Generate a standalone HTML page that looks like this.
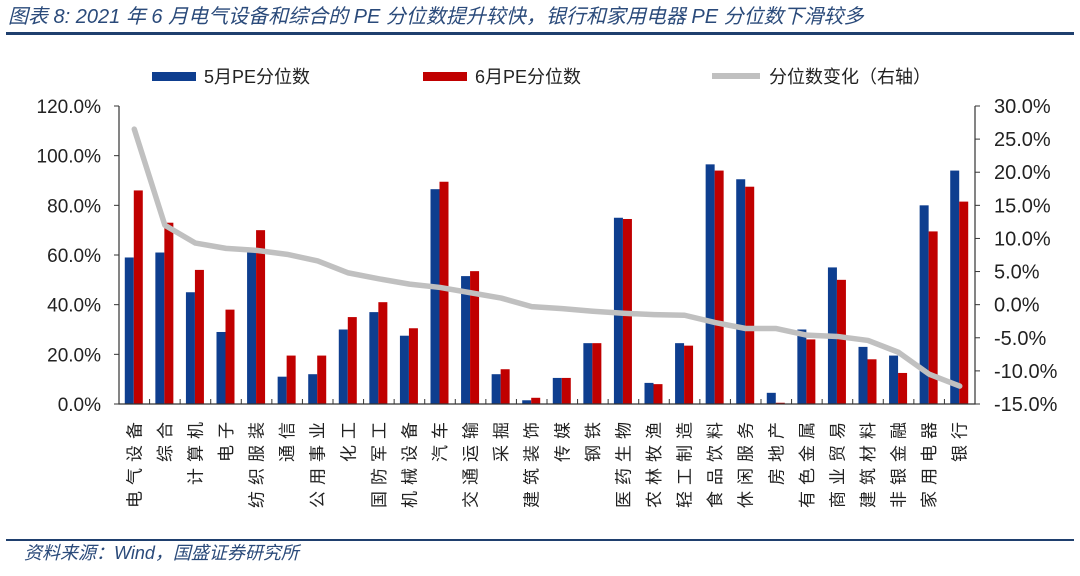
<!DOCTYPE html>
<html><head><meta charset="utf-8"><style>
body{margin:0;background:#fff;}
svg text{font-family:"Liberation Sans","Noto Sans CJK SC",sans-serif;}
</style></head><body>
<svg id="chart" width="1080" height="571" xmlns="http://www.w3.org/2000/svg">
<text x="8" y="23" font-size="20" font-style="italic" fill="#2a4a7a">图表 8:  2021 年 6 月电气设备和综合的 PE 分位数提升较快，银行和家用电器 PE 分位数下滑较多</text>
<rect x="6" y="32" width="1068" height="3" fill="#1f3f6e"/>
<rect x="6" y="539" width="1068" height="2" fill="#1f3f6e"/>
<text x="24" y="559" font-size="18" font-style="italic" fill="#2a4a7a">资料来源：Wind，国盛证券研究所</text>
<g>
<rect x="152" y="72" width="44" height="9" fill="#0e3e8f"/>
<text x="204" y="83" font-size="18" fill="#222">5月PE分位数</text>
<rect x="423" y="72" width="44" height="9" fill="#c00000"/>
<text x="475" y="83" font-size="18" fill="#222">6月PE分位数</text>
<rect x="712" y="73" width="48" height="6" fill="#c0c0c0"/>
<text x="769" y="83" font-size="18" fill="#222">分位数变化（右轴）</text>
</g>
<g id="plot"></g>
</svg>
<script>
const categories=["电气设备","综合","计算机","电子","纺织服装","通信","公用事业","化工","国防军工","机械设备","汽车","交通运输","采掘","建筑装饰","传媒","钢铁","医药生物","农林牧渔","轻工制造","食品饮料","休闲服务","房地产","有色金属","商业贸易","建筑材料","非银金融","家用电器","银行"];
const mayPE=[59,61,45,29,61,11,12,30,37,27.5,86.5,51.5,12,1.5,10.5,24.5,75,8.5,24.5,96.5,90.5,4.5,30,55,23,19.5,80,94];
const junPE=[86,73,54,38,70,19.5,19.5,35,41,30.5,89.5,53.5,14,2.5,10.5,24.5,74.5,8,23.5,94,87.5,0.5,26,50,18,12.5,69.5,81.5];
const change=[26.5,12,9.3,8.5,8.2,7.6,6.6,4.8,3.9,3.1,2.6,1.8,1.0,-0.3,-0.6,-1.0,-1.3,-1.5,-1.6,-2.7,-3.6,-3.6,-4.6,-4.8,-5.4,-7.2,-10.5,-12.3];
const leftTicks=[0,20,40,60,80,100,120];
const rightTicks=[-15,-10,-5,0,5,10,15,20,25,30];

const NS="http://www.w3.org/2000/svg";
const g=document.getElementById('plot');
const X0=119,X1=975,Y0=404,Y1=106;
const bw=(X1-X0)/categories.length;
const yL=v=>Y0-(v/120)*(Y0-Y1);
const yR=v=>Y0-((v+15)/45)*(Y0-Y1);
const xC=i=>X0+bw*(i+0.5);
function mk(t,a){const e=document.createElementNS(NS,t);for(const k in a)e.setAttribute(k,a[k]);g.appendChild(e);return e;}
categories.forEach((c,i)=>{
  let b=mk('rect',{x:xC(i)-9.5,y:yL(mayPE[i]),width:9,height:Y0-yL(mayPE[i]),fill:'#0e3e8f'});
  
  
  let r=mk('rect',{x:xC(i)-0.5,y:yL(junPE[i]),width:9,height:Y0-yL(junPE[i]),fill:'#c00000'});
  
  
  let t=mk('text',{transform:`translate(${xC(i)+6},416) rotate(-90)`,'text-anchor':'end','font-size':17,'letter-spacing':6,fill:'#222','font-family':'"Liberation Serif","Noto Serif CJK SC",serif'});
  t.textContent=c;
  
  
  let tk=mk('line',{x1:X0+bw*(i+1),x2:X0+bw*(i+1),y1:Y0,y2:Y0-5,stroke:'#333','stroke-width':1});
  
  
});
let pts=change.map((v,i)=>xC(i)+','+yR(v)).join(' ');
let pl=mk('polyline',{points:pts,fill:'none',stroke:'#c0c0c0','stroke-width':5.5,'stroke-linejoin':'round','stroke-linecap':'round'});


let ax=mk('path',{d:`M${X0},${Y1}V${Y0}H${X1}V${Y1}`,fill:'none',stroke:'#333','stroke-width':1.2});


leftTicks.forEach(v=>{
  let l=mk('line',{x1:X0-5,x2:X0,y1:yL(v),y2:yL(v),stroke:'#333'});
  
  
  let t=mk('text',{x:101,y:yL(v)+7,'text-anchor':'end','font-size':19,fill:'#222'});
  t.textContent=v.toFixed(1)+'%';
  
  
});
rightTicks.forEach(v=>{
  let l=mk('line',{x1:X1,x2:X1+5,y1:yR(v),y2:yR(v),stroke:'#333'});
  
  
  let t=mk('text',{x:994,y:yR(v)+7,'text-anchor':'start','font-size':20,fill:'#222'});
  t.textContent=v.toFixed(1)+'%';
  
  
});
</script>
</body></html>
